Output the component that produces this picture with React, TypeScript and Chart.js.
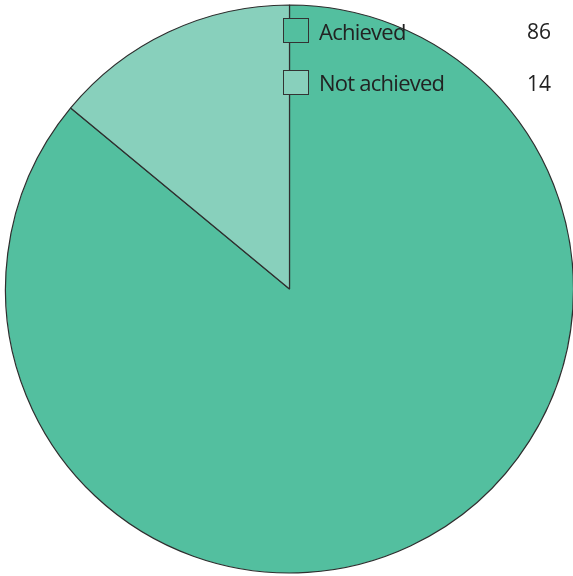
import React, { useEffect, useRef } from "react";
import { Chart, registerables } from "chart.js";

Chart.register(...registerables);

const categories = ["Achieved", "Not achieved"];
const values = [86, 14];
const colors = ["#53bf9f", "#88d0bc"];

export default function App() {
  const ref = useRef<HTMLCanvasElement | null>(null);
  useEffect(() => {
    if (!ref.current) return;
    const chart = new Chart(ref.current, {
      type: "pie",
      data: {
        labels: categories,
        datasets: [
          {
            data: values,
            backgroundColor: colors,
            borderColor: "#2e2e2e",
            borderWidth: 1.2,
          },
        ],
      },
      options: {
        responsive: false,
        animation: false,
        radius: 284,
        layout: { padding: { left: 6, right: 0, top: 5, bottom: 3 } },
        plugins: { legend: { display: false }, tooltip: { enabled: false } },
      },
    });
    return () => chart.destroy();
  }, []);
  return (
    <div style={{ position: "absolute", left: 0, top: 0, width: 573, height: 576 }}>
      <canvas ref={ref} width={573} height={576} style={{ display: "block" }} />
      {categories.map((c, i) => (
        <React.Fragment key={c}>
          <div
            style={{
              position: "absolute",
              left: 283,
              top: 18 + i * 52,
              width: 24,
              height: 23,
              background: colors[i],
              border: "1px solid #333",
            }}
          />
          <div
            style={{
              position: "absolute",
              left: 319,
              top: 18.5 + i * 51.5,
              height: 25,
              lineHeight: "25px",
              fontFamily: "'Open Sans', sans-serif",
              fontSize: 22,
              letterSpacing: "-0.75px",
              color: "#222",
              whiteSpace: "nowrap",
            }}
          >
            {c}
          </div>
          <div
            style={{
              position: "absolute",
              right: 573 - 551,
              top: 19 + i * 52,
              height: 25,
              lineHeight: "25px",
              fontFamily: "'Open Sans', sans-serif",
              fontSize: 21,
              color: "#222",
              textAlign: "right",
            }}
          >
            {values[i]}
          </div>
        </React.Fragment>
      ))}
    </div>
  );
}
